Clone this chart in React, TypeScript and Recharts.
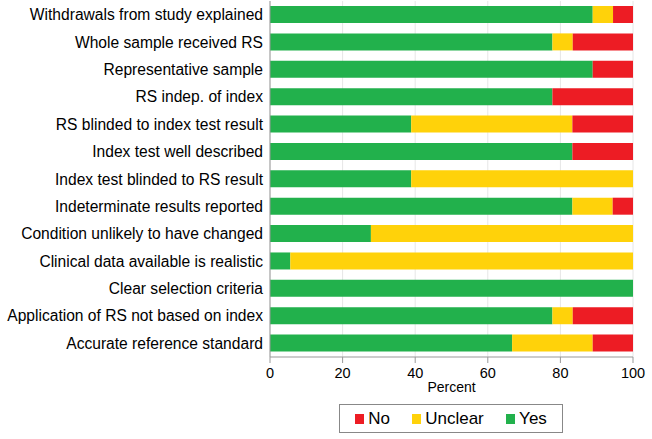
import React from "react";
import { Bar, BarChart, CartesianGrid, XAxis, YAxis } from "recharts";

const categories = [
  "Withdrawals from study explained",
  "Whole sample received RS",
  "Representative sample",
  "RS indep. of index",
  "RS blinded to index test result",
  "Index test well described",
  "Index test blinded to RS result",
  "Indeterminate results reported",
  "Condition unlikely to have changed",
  "Clinical data available is realistic",
  "Clear selection criteria",
  "Application of RS not based on index",
  "Accurate reference standard",
];

const yesValues = [88.9, 77.8, 88.9, 77.8, 38.9, 83.3, 38.9, 83.3, 27.8, 5.6, 100, 77.8, 66.7];
const unclearValues = [5.6, 5.6, 0, 0, 44.4, 0, 61.1, 11.1, 72.2, 94.4, 0, 5.6, 22.2];
const noValues = [5.5, 16.6, 11.1, 22.2, 16.7, 16.7, 0, 5.6, 0, 0, 0, 16.6, 11.1];

const xTicks = [0, 20, 40, 60, 80, 100];

const GREEN = "#22b14c";
const YELLOW = "#ffd20a";
const RED = "#ed1c24";
const FONT = "'Liberation Sans', Arial, Helvetica, sans-serif";

const data = categories.map((name, i) => ({
  name,
  yes: yesValues[i],
  unclear: unclearValues[i],
  no: noValues[i],
}));

const legendItems = [
  { label: "No", color: RED },
  { label: "Unclear", color: YELLOW },
  { label: "Yes", color: GREEN },
];

export default function App() {
  return (
    <div style={{ position: "absolute", left: 0, top: 0, width: 652, height: 439, background: "#fff", fontFamily: FONT }}>
      <BarChart
        width={652}
        height={439}
        data={data}
        layout="vertical"
        margin={{ top: 1, right: 19, bottom: 42, left: 0 }}
      >
        <CartesianGrid horizontal={false} stroke="#e6e6e6" />
        <XAxis
          type="number"
          domain={[0, 100]}
          ticks={xTicks}
          height={40}
          tickSize={6}
          tickMargin={5}
          stroke="#999"
          tick={{ fill: "#000", fontSize: 14.5, fontFamily: FONT }}
          label={{ value: "Percent", position: "insideBottom", offset: 5, fill: "#000", fontSize: 14, fontFamily: FONT }}
        />
        <YAxis
          type="category"
          dataKey="name"
          width={270}
          tickLine={false}
          tickSize={0}
          tickMargin={7}
          interval={0}
          stroke="#999"
          tick={{ fill: "#000", fontSize: 15.6, fontFamily: FONT }}
        />
        <Bar dataKey="yes" stackId="a" fill={GREEN} barSize={17} isAnimationActive={false} />
        <Bar dataKey="unclear" stackId="a" fill={YELLOW} barSize={17} isAnimationActive={false} />
        <Bar dataKey="no" stackId="a" fill={RED} barSize={17} isAnimationActive={false} />
      </BarChart>
      <div
        style={{
          position: "absolute",
          left: 339,
          top: 404,
          width: 224,
          height: 29,
          border: "1px solid #888",
          display: "flex",
          alignItems: "center",
          justifyContent: "space-around",
          paddingLeft: 4,
          paddingRight: 4,
          boxSizing: "border-box",
          fontSize: 17,
          color: "#000",
        }}
      >
        {legendItems.map((item) => (
          <span key={item.label} style={{ display: "inline-flex", alignItems: "center", gap: 4 }}>
            <span style={{ display: "inline-block", width: 9, height: 10, background: item.color }} />
            {item.label}
          </span>
        ))}
      </div>
    </div>
  );
}
